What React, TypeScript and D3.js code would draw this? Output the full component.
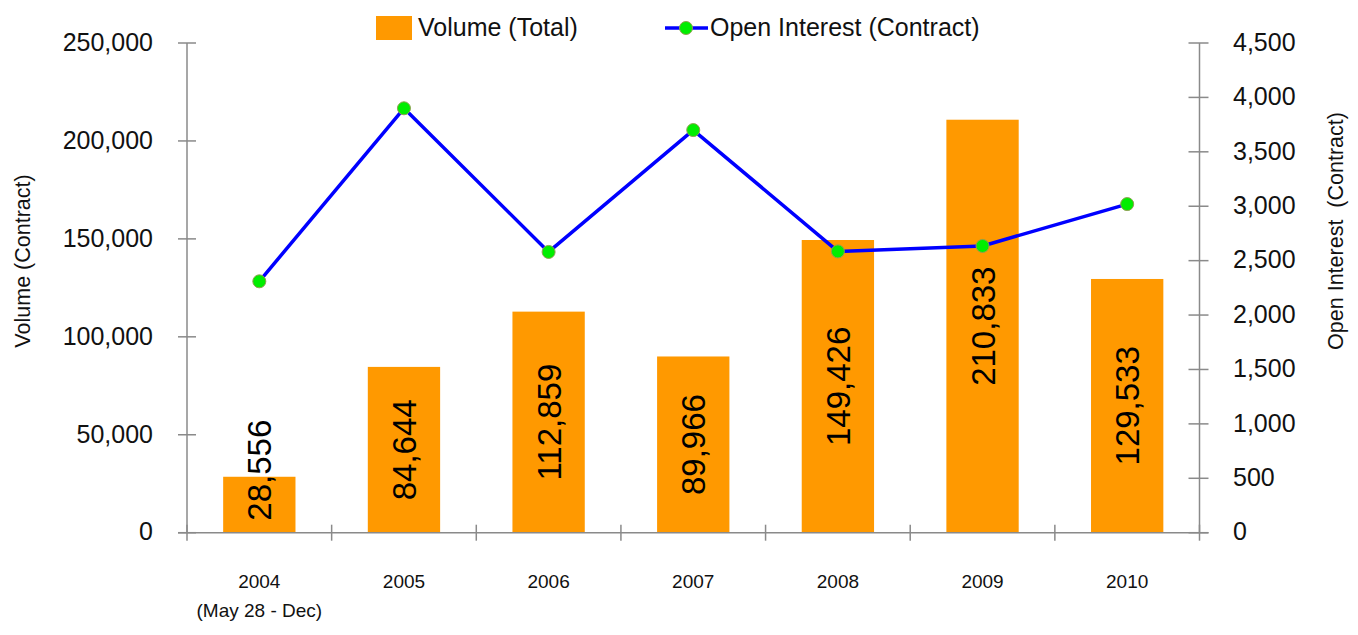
import React, { useEffect, useRef } from "react";
import * as d3 from "d3";

const years = ["2004", "2005", "2006", "2007", "2008", "2009", "2010"];
const volume = [28556, 84644, 112859, 89966, 149426, 210833, 129533];
const openInterest = [2310, 3900, 2580, 3700, 2585, 2635, 3020];
const leftTicks = [0, 50000, 100000, 150000, 200000, 250000];
const rightTicks = [0, 500, 1000, 1500, 2000, 2500, 3000, 3500, 4000, 4500];
const subLabel = "(May 28 - Dec)";

const FONT = "'Liberation Sans', Arial, sans-serif";
const AXIS = "#8a8a8a";

export default function App() {
  const ref = useRef<SVGSVGElement | null>(null);

  useEffect(() => {
    const svg = d3.select(ref.current);
    svg.selectAll("*").remove();

    const left = 187, right = 1199.5, top = 43, bottom = 532.7;
    const x = d3.scaleBand<string>().domain(years).range([left, right]).paddingInner(0.5).paddingOuter(0.25);
    const xc = (d: string) => (x(d) as number) + x.bandwidth() / 2;
    const step = x.step();
    const yL = d3.scaleLinear().domain([0, 250000]).range([bottom, top]);
    const yR = d3.scaleLinear().domain([0, 4500]).range([bottom, top]);
    const fmt = d3.format(",");

    // bars
    const g = svg.append("g");
    g.selectAll("rect.bar")
      .data(volume)
      .join("rect")
      .attr("x", (_, i) => x(years[i]) as number)
      .attr("y", (d) => yL(d))
      .attr("width", x.bandwidth())
      .attr("height", (d) => bottom - yL(d))
      .attr("fill", "#FF9900");

    // axes
    const ax = svg.append("g").attr("stroke", AXIS).attr("stroke-width", 1.5).attr("fill", "none");
    ax.append("line").attr("x1", left).attr("x2", left).attr("y1", top).attr("y2", bottom);
    ax.append("line").attr("x1", right).attr("x2", right).attr("y1", top).attr("y2", bottom);
    ax.append("line").attr("x1", left - 9).attr("x2", right + 9).attr("y1", bottom).attr("y2", bottom);
    leftTicks.forEach((t) => {
      ax.append("line").attr("x1", left - 9).attr("x2", left + 9).attr("y1", yL(t)).attr("y2", yL(t));
    });
    rightTicks.forEach((t) => {
      ax.append("line").attr("x1", right - 11).attr("x2", right + 9).attr("y1", yR(t)).attr("y2", yR(t));
    });
    d3.range(years.length + 1).forEach((i) => {
      const xx = left + i * step;
      ax.append("line").attr("x1", xx).attr("x2", xx).attr("y1", bottom - 8).attr("y2", bottom + 8);
    });

    // left tick labels
    svg.append("g")
      .selectAll("text")
      .data(leftTicks)
      .join("text")
      .attr("x", 153)
      .attr("y", (d) => yL(d) - 1)
      .attr("dy", "0.35em")
      .attr("text-anchor", "end")
      .attr("font-family", FONT)
      .attr("font-size", 25)
      .attr("fill", "#111")
      .text((d) => fmt(d));

    // right tick labels
    svg.append("g")
      .selectAll("text")
      .data(rightTicks)
      .join("text")
      .attr("x", 1233)
      .attr("y", (d) => yR(d) - 1)
      .attr("dy", "0.35em")
      .attr("text-anchor", "start")
      .attr("font-family", FONT)
      .attr("font-size", 25)
      .attr("fill", "#111")
      .text((d) => fmt(d));

    // x labels
    svg.append("g")
      .selectAll("text")
      .data(years)
      .join("text")
      .attr("x", (d) => xc(d))
      .attr("y", 588)
      .attr("text-anchor", "middle")
      .attr("font-family", FONT)
      .attr("font-size", 19)
      .attr("fill", "#111")
      .text((d) => d);
    svg.append("text")
      .attr("x", xc(years[0]))
      .attr("y", 617)
      .attr("text-anchor", "middle")
      .attr("font-family", FONT)
      .attr("font-size", 19)
      .attr("fill", "#111")
      .attr("xml:space", "preserve")
      .text(subLabel);

    // axis titles
    svg.append("text")
      .attr("transform", "translate(30,261) rotate(-90)")
      .attr("text-anchor", "middle")
      .attr("font-family", FONT)
      .attr("font-size", 21.5)
      .attr("fill", "#111")
      .text("Volume (Contract)");
    svg.append("text")
      .attr("transform", "translate(1343,231) rotate(-90)")
      .attr("text-anchor", "middle")
      .attr("font-family", FONT)
      .attr("font-size", 21.5)
      .attr("fill", "#111")
      .attr("xml:space", "preserve")
      .text("Open Interest  (Contract)");

    // bar value labels
    const lg = svg.append("g");
    volume.forEach((v, i) => {
      const cx = xc(years[i]);
      const t = lg.append("text")
        .attr("text-anchor", "middle")
        .attr("font-family", FONT)
        .attr("font-size", 33)
        .attr("fill", "#000")
        .text(fmt(v));
      const len = (t.node() as SVGTextElement).getComputedTextLength();
      const barCenter = (yL(v) + bottom) / 2;
      const cy = Math.min(barCenter, bottom - 12 - len / 2);
      t.attr("transform", `translate(${cx + 12},${cy}) rotate(-90)`);
    });

    // line
    const line = d3.line<number>()
      .x((_, i) => xc(years[i]))
      .y((d) => yR(d));
    svg.append("path")
      .datum(openInterest)
      .attr("d", line)
      .attr("fill", "none")
      .attr("stroke", "#0000FF")
      .attr("stroke-width", 3.5)
      .attr("stroke-linejoin", "round");
    svg.append("g")
      .selectAll("circle")
      .data(openInterest)
      .join("circle")
      .attr("cx", (_, i) => xc(years[i]))
      .attr("cy", (d) => yR(d))
      .attr("r", 6.5)
      .attr("fill", "#00EE00")
      .attr("stroke", "#8f9f50")
      .attr("stroke-width", 1);

    // legend
    const leg = svg.append("g");
    leg.append("rect").attr("x", 376).attr("y", 16).attr("width", 36).attr("height", 24).attr("fill", "#FF9900");
    leg.append("text").attr("x", 418).attr("y", 36).attr("font-family", FONT).attr("font-size", 25).attr("fill", "#111").text("Volume (Total)");
    leg.append("line").attr("x1", 665).attr("x2", 708).attr("y1", 28).attr("y2", 28).attr("stroke", "#0000FF").attr("stroke-width", 3.5);
    leg.append("circle").attr("cx", 686).attr("cy", 28).attr("r", 6.5).attr("fill", "#00EE00").attr("stroke", "#8f9f50").attr("stroke-width", 1);
    leg.append("text").attr("x", 710).attr("y", 36).attr("font-family", FONT).attr("font-size", 25).attr("fill", "#111").text("Open Interest (Contract)");
  }, []);

  return (
    <div style={{ position: "absolute", left: 0, top: 0, width: 1358, height: 635, background: "#fff" }}>
      <svg ref={ref} width={1358} height={635} style={{ display: "block" }} />
    </div>
  );
}
